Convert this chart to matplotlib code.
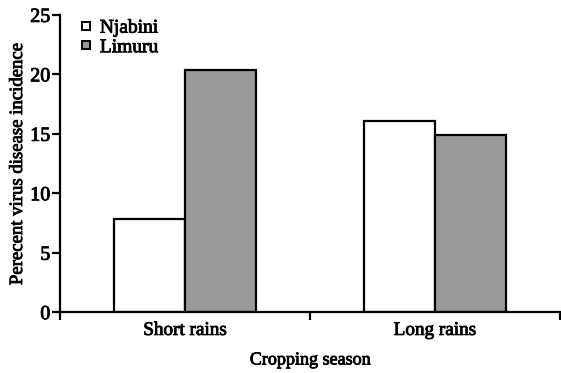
import matplotlib
matplotlib.use("Agg")
import matplotlib.pyplot as plt
from matplotlib.lines import Line2D
import matplotlib.patheffects as pe
import numpy as np

categories = ["Short rains", "Long rains"]
njabini = [7.8, 16.1]
limuru = [20.4, 14.9]
series_names = ["Njabini", "Limuru"]

plt.rcParams['font.family'] = ['Liberation Serif', 'DejaVu Serif']
heavy = [pe.withStroke(linewidth=0.6, foreground="black")]

fig = plt.figure(figsize=(5.61, 3.73), dpi=100)
ax = fig.add_axes([0.107, 0.163, 0.891, 0.797])

centers = np.arange(len(categories)) + 0.5
w = 0.285
ax.bar(centers - w/2, njabini, width=w, color="white", edgecolor="black", linewidth=1.6, zorder=2)
ax.bar(centers + w/2, limuru, width=w, color="#999999", edgecolor="black", linewidth=1.6, zorder=2)

ax.set_xlim(0, 2)
ax.set_ylim(0, 25)
ax.set_yticks([0, 5, 10, 15, 20, 25])
ax.set_xticks([0, 1, 2])
ax.set_xticklabels([])
ax.set_xticks(centers, minor=True)
ax.set_xticklabels(categories, minor=True)
ax.tick_params(axis='x', which='minor', length=0, pad=7, labelsize=13.8)
ax.tick_params(axis='x', which='major', length=6, width=1.6, direction='out')
ax.tick_params(axis='y', length=6, width=1.6, direction='out', labelsize=14.5, pad=1)

for s in ["top", "right"]:
    ax.spines[s].set_visible(False)
for s in ["left", "bottom"]:
    ax.spines[s].set_linewidth(1.6)

ax.set_xlabel("Cropping season", fontsize=13, labelpad=9)
ax.set_ylabel("Perecent virus disease incidence", fontsize=13.5, labelpad=3)

handles = [Line2D([], [], linestyle="none", marker="s", markersize=5.8,
                  markerfacecolor="white", markeredgecolor="black", markeredgewidth=1.4),
           Line2D([], [], linestyle="none", marker="s", markersize=5.8,
                  markerfacecolor="#999999", markeredgecolor="black", markeredgewidth=1.4)]
leg = ax.legend(handles, series_names, loc="upper left", bbox_to_anchor=(0.0, 1.045),
                frameon=False, handlelength=0.9, handletextpad=0.25,
                labelspacing=0.1, fontsize=14)

for t in ax.get_xticklabels(minor=True) + ax.get_yticklabels() + leg.get_texts() + \
        [ax.xaxis.label, ax.yaxis.label]:
    t.set_path_effects(heavy)

fig.savefig("out.png", dpi=100)
